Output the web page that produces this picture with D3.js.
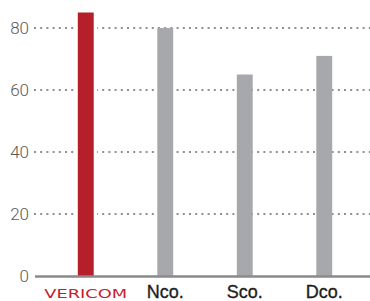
<!DOCTYPE html>
<html>
<head>
<meta charset="utf-8">
<script src="https://cdn.jsdelivr.net/npm/d3@7"></script>
<style>
  body { margin: 0; background: #fff; }
  svg { display: block; }
</style>
</head>
<body>
<div id="chart"></div>
<script>
// datos
const categories = ['VERICOM', 'Nco.', 'Sco.', 'Dco.'];
const values = [85, 80, 65, 71];
const yTicks = [0, 20, 40, 60, 80];

const width = 370;
const height = 301;

const svg = d3.select('#chart')
    .append('svg')
    .attr('width', width)
    .attr('height', height);

const x = d3.scaleBand()
    .domain(categories)
    .range([46, 364])
    .paddingInner(0.8)
    .paddingOuter(0.4);

const y = d3.scaleLinear()
    .domain([0, 80])
    .range([276, 28]);

// lineas de cuadricula punteadas
svg.append('g')
    .selectAll('line')
    .data(yTicks.filter(d => d > 0))
    .enter()
    .append('line')
    .attr('x1', 34)
    .attr('x2', width)
    .attr('y1', d => y(d))
    .attr('y2', d => y(d))
    .attr('stroke', '#8f8f8f')
    .attr('stroke-width', 2)
    .attr('stroke-dasharray', '2,4.2');

// etiquetas del eje Y
svg.append('g')
    .selectAll('text')
    .data(yTicks)
    .enter()
    .append('text')
    .attr('x', 29)
    .attr('y', d => y(d))
    .attr('dy', '0.36em')
    .attr('text-anchor', 'end')
    .attr('fill', '#5a5a5a')
    .style('font-family', 'Roboto, "Liberation Sans", sans-serif')
    .style('font-weight', 300)
    .style('font-size', '17px')
    .text(d => d);

// barras
svg.append('g')
    .selectAll('rect')
    .data(values)
    .enter()
    .append('rect')
    .attr('x', (d, i) => x(categories[i]))
    .attr('y', d => y(d))
    .attr('width', x.bandwidth())
    .attr('height', d => y(0) - y(d))
    .attr('fill', (d, i) => i === 0 ? '#b51f29' : '#a7a8ab')
    .attr('stroke', (d, i) => i === 0 ? '#fff' : 'none')
    .attr('stroke-width', 7)
    .attr('paint-order', 'stroke');

// linea base
svg.append('line')
    .attr('x1', 35)
    .attr('x2', width)
    .attr('y1', y(0) + 0.5)
    .attr('y2', y(0) + 0.5)
    .attr('stroke', '#8a8a8a')
    .attr('stroke-width', 2.5);

// etiquetas de categorias
const labels = svg.append('g')
    .selectAll('text')
    .data(categories)
    .enter()
    .append('text')
    .attr('x', d => x(d) + x.bandwidth() / 2)
    .attr('y', 298)
    .attr('text-anchor', 'middle')
    .text(d => d);

labels.filter((d, i) => i === 0)
    .attr('fill', '#c8202b')
    .attr('textLength', 83)
    .attr('lengthAdjust', 'spacingAndGlyphs')
    .style('font-family', '"DejaVu Sans", sans-serif')
    .style('font-size', '12.5px')
    .style('font-weight', 400);

labels.filter((d, i) => i > 0)
    .attr('fill', '#1e1e1e')
    .attr('stroke', '#1e1e1e')
    .attr('stroke-width', 0.35)
    .style('font-family', '"Liberation Sans", Arial, sans-serif')
    .style('font-size', '18px')
    .style('font-weight', 400);
</script>
</body>
</html>
